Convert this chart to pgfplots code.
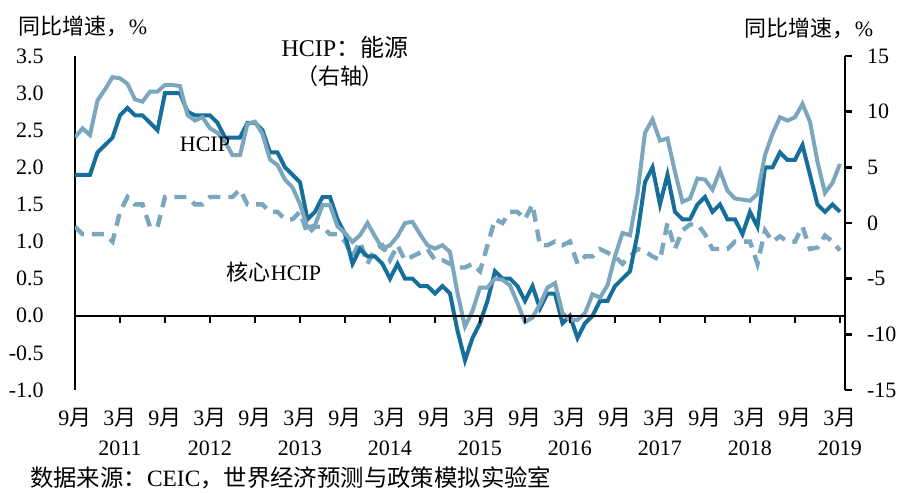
\documentclass[border=0pt]{standalone}
\usepackage{fontspec}
\setmainfont{Liberation Serif}
\newfontfamily\cjk{Noto Sans CJK SC}
\usepackage{pgfplots}
\usepackage{pgfplotstable}
\pgfplotsset{compat=1.18}
\definecolor{dk}{RGB}{22,110,155}
\definecolor{lt}{RGB}{122,166,190}
\newcommand{\yue}{{\cjk 月}}
\newcommand{\fs}{\fontsize{11}{16}\selectfont}
\newcommand{\fx}{\fontsize{11}{15}\selectfont}

\pgfplotstableread{
m hcip core energy
0 1.9 1.2 7.7
1 1.9 1.1 8.5
2 1.9 1.1 7.9
3 2.2 1.1 11.0
4 2.3 1.1 12.0
5 2.4 1.0 13.1
6 2.7 1.4 13.0
7 2.8 1.6 12.5
8 2.7 1.5 11.1
9 2.7 1.5 10.9
10 2.6 1.2 11.8
11 2.5 1.2 11.8
12 3.0 1.6 12.4
13 3.0 1.6 12.4
14 3.0 1.6 12.3
15 2.75 1.6 9.7
16 2.7 1.5 9.2
17 2.7 1.5 9.5
18 2.7 1.6 8.5
19 2.6 1.6 8.1
20 2.4 1.6 7.3
21 2.4 1.6 6.1
22 2.4 1.7 6.1
23 2.6 1.5 8.9
24 2.6 1.5 9.1
25 2.5 1.5 8.0
26 2.2 1.4 5.7
27 2.2 1.4 5.2
28 2.0 1.3 3.9
29 1.9 1.3 3.2
30 1.8 1.4 1.7
31 1.3 1.1 -0.4
32 1.4 1.2 -0.2
33 1.6 1.2 1.6
34 1.6 1.1 1.6
35 1.3 1.1 -0.3
36 1.1 1.0 -0.9
37 0.7 0.8 -1.7
38 0.9 1.0 -1.1
39 0.8 0.7 0.0
40 0.8 0.9 -1.2
41 0.7 0.95 -2.3
42 0.5 0.75 -2.0
43 0.7 0.95 -1.2
44 0.5 0.75 0.0
45 0.5 0.8 0.1
46 0.4 0.85 -1.0
47 0.4 0.9 -2.0
48 0.3 0.75 -2.3
49 0.4 0.75 -2.0
50 0.3 0.7 -2.6
51 -0.2 0.65 -6.3
52 -0.6 0.65 -9.3
53 -0.3 0.7 -7.9
54 -0.1 0.6 -5.8
55 0.2 0.95 -5.8
56 0.6 1.3 -5.0
57 0.5 1.25 -5.1
58 0.5 1.4 -5.6
59 0.4 1.4 -7.2
60 0.2 1.3 -8.9
61 0.4 1.5 -8.5
62 0.1 0.95 -7.3
63 0.3 0.95 -5.8
64 0.3 1.0 -5.4
65 -0.1 0.95 -8.1
66 0.0 1.0 -8.7
67 -0.3 0.7 -8.7
68 -0.1 0.8 -8.1
69 0.0 0.8 -6.4
70 0.2 0.9 -6.7
71 0.2 0.85 -5.6
72 0.4 0.8 -3.0
73 0.5 0.7 -0.9
74 0.6 0.8 -1.1
75 1.1 0.9 2.6
76 1.8 0.87 8.1
77 2.0 0.8 9.3
78 1.5 0.75 7.4
79 1.9 1.25 7.6
80 1.4 0.9 4.6
81 1.3 1.15 1.9
82 1.3 1.23 2.2
83 1.5 1.23 4.0
84 1.6 1.1 3.9
85 1.4 0.9 3.0
86 1.5 0.9 4.7
87 1.3 0.9 2.9
88 1.3 1.0 2.2
89 1.1 1.0 2.1
90 1.4 1.0 2.0
91 1.2 0.7 2.6
92 2.0 1.15 6.1
93 2.0 1.0 8.0
94 2.2 1.07 9.5
95 2.1 1.0 9.2
96 2.1 1.0 9.5
97 2.3 1.2 10.7
98 1.9 0.9 9.1
99 1.5 0.92 5.5
100 1.4 1.08 2.7
101 1.5 1.0 3.6
102 1.4 0.88 5.3
}\datatab

\begin{document}
\begin{tikzpicture}[x=1pt,y=1pt]
\useasboundingbox (-37.5,-51.5) rectangle (413.5,195);
\begin{axis}[
  at={(0,0)}, anchor=south west,
  scale only axis, width=385pt, height=167pt,
  xmin=0, xmax=102.67, ymin=-1, ymax=3.5,
  axis y line=left, axis x line=none,
  axis line style={-, line width=1.2pt, black},
  ytick={-1,-0.5,0,0.5,1,1.5,2,2.5,3,3.5},
  yticklabels={-1.0,-0.5,0.0,0.5,1.0,1.5,2.0,2.5,3.0,3.5},
  y tick style={draw=none},
  yticklabel style={font=\fs, xshift=-10pt},
]
\addplot[draw=lt, line width=2.2pt, dash pattern=on 6pt off 4pt] table[x=m, y=core] {\datatab};
\addplot[draw=dk, line width=2pt] table[x=m, y=hcip] {\datatab};
\end{axis}
\begin{axis}[
  at={(0,0)}, anchor=south west,
  scale only axis, width=385pt, height=167pt,
  xmin=0, xmax=102.67, ymin=-15, ymax=15,
  axis y line*=right, axis x line=none,
  axis line style={-, line width=1.2pt, black},
  ytick={-15,-10,-5,0,5,10,15},
  yticklabels={-15,-10,-5,0,5,10,15},
  ytick align=outside, major tick length=3.5pt,
  y tick style={line width=1.2pt, black},
  yticklabel style={font=\fs, xshift=4pt},
]
\addplot[draw=lt, line width=2pt] table[x=m, y=energy] {\datatab};
\end{axis}
\begin{axis}[
  at={(0,37.111pt)}, anchor=south west,
  scale only axis, width=385pt, height=10pt,
  xmin=0, xmax=102.67, ymin=0, ymax=1,
  axis x line=bottom, axis y line=none,
  axis line style={-, line width=1.2pt, black},
  xtick={0,6,...,102},
  xticklabels={{9\yue},{3\yue\\2011},{9\yue},{3\yue\\2012},{9\yue},{3\yue\\2013},{9\yue},{3\yue\\2014},{9\yue},{3\yue\\2015},{9\yue},{3\yue\\2016},{9\yue},{3\yue\\2017},{9\yue},{3\yue\\2018},{9\yue},{3\yue\\2019}},
  xtick align=outside, major tick length=3.5pt,
  x tick style={line width=1.2pt, black},
  xticklabel style={font=\fx, align=center, anchor=north, yshift=-39pt},
]
\end{axis}
\node[font=\fs] at (4,182) {{\cjk 同比增速，}\%};
\node[font=\fs] at (367,181) {{\cjk 同比增速，}\%};
\node[font=\fontsize{12}{14}\selectfont] at (135,171.5) {HCIP{\cjk ：能源}};
\node[font=\fs] at (132.5,157) {{\cjk （右轴）}};
\node[font=\fs] at (65,123) {HCIP};
\node[font=\fs] at (99.5,59) {{\cjk 核心}HCIP};
\node[font=\fontsize{11.7}{14}\selectfont, anchor=west] at (-26,-44) {{\cjk 数据来源：}CEIC{\cjk ，世界经济预测与政策模拟实验室}};
\end{tikzpicture}
\end{document}
